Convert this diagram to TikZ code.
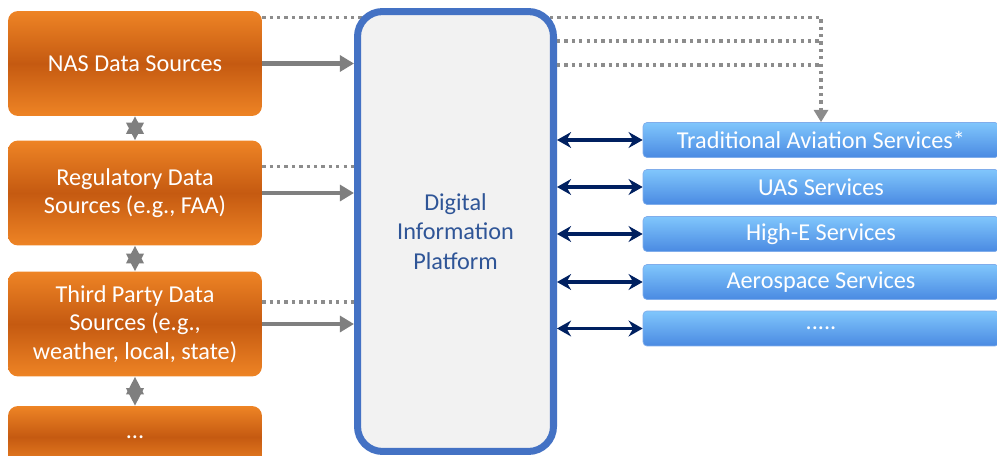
\documentclass[tikz,border=0pt]{standalone}
\usepackage{fontspec}
\setmainfont{Carlito}
\usepackage{xcolor}
\usetikzlibrary{arrows.meta,positioning}

\definecolor{srcmid}{HTML}{C55A11}
\definecolor{srcedge}{HTML}{EE8425}
\definecolor{platblue}{HTML}{4472C4}
\definecolor{platfill}{HTML}{F2F2F2}
\definecolor{plattext}{HTML}{2F5597}
\definecolor{svctop}{HTML}{80C6FC}
\definecolor{svcbot}{HTML}{4A8AE2}
\definecolor{navy}{HTML}{002060}
\definecolor{linkgray}{HTML}{7F7F7F}
\definecolor{dotgray}{HTML}{8C8C8C}

\begin{document}
\begin{tikzpicture}[x=0.02cm, y=-0.02cm,
	srcbox/.style={font=\fontsize{13.8}{16.3}\selectfont, text=white, rounded corners=0.2cm, top color=srcedge, bottom color=srcedge, middle color=srcmid, minimum width=5.08cm, minimum height=2.1cm, inner sep=0, align=center},
	svcbox/.style={font=\fontsize{13.8}{16}\selectfont, text=white, rounded corners=0.08cm, top color=svctop, bottom color=svcbot, draw=svcbot!70!white, thin, minimum width=7.12cm, minimum height=0.7cm, inner sep=0},
	platbox/.style={font=\fontsize{13.8}{16.8}\selectfont, text=plattext, draw=platblue, line width=4pt, fill=platfill, rounded corners=0.5cm, minimum width=3.92cm, minimum height=8.8cm, align=center},
	feed/.style={-{Triangle[length=8pt,width=9pt]}, line width=2.3pt, draw=linkgray},
	link/.style={{Triangle[length=10pt,width=10pt]}-{Triangle[length=10pt,width=10pt]}, line width=1pt, draw=linkgray},
	dots/.style={line width=1.8pt, draw=dotgray, dash pattern=on 1.9pt off 2.3pt},
	api/.style={{Stealth[length=8pt,width=9pt]}-{Stealth[length=8pt,width=9pt]}, line width=2pt, draw=navy}
]
\clip (0,0) rectangle (997,456);

\node[srcbox] (nas) at (135,63.5) {NAS Data Sources};
\node[srcbox] (reg) at (135,193) {Regulatory Data\\Sources (e.g., FAA)};
\node[srcbox] (third) at (135,324) {Third Party Data\\Sources (e.g.,\\weather, local, state)};
\node[srcbox, minimum height=1.24cm] (more) at (135,437) {...};

\node[svcbox] (trad) at (821,140) {Traditional Aviation Services*};
\node[svcbox] (uas) at (821,187) {UAS Services};
\node[svcbox] (highe) at (821,234) {High-E Services};
\node[svcbox] (aero) at (821,282) {Aerospace Services};
\node[svcbox] (svcmore) at (821,328.5) {.....};

% dotted feed to traditional services, passes behind the platform
\coordinate (nasTap) at ([yshift=26.4pt]nas.east);
\draw[dots, -{Triangle[length=7pt,width=8pt]}] (nasTap) -| (trad.north);

\node[platbox] (dip) at (455.5,231.5) {Digital\\Information\\Platform};

\coordinate (tapA) at (821,41);
\coordinate (tapB) at (821,65);
\draw[dots] (dip.east |- tapA) -- (tapA);
\draw[dots] (dip.east |- tapB) -- (tapB);

\coordinate (regTap) at ([yshift=15.3pt]reg.east);
\coordinate (thirdTap) at ([yshift=12.5pt]third.east);
\draw[dots] (regTap) -- (regTap -| dip.west);
\draw[dots] (thirdTap) -- (thirdTap -| dip.west);

\draw[feed] (nas) -- (nas -| dip.west);
\draw[feed] (reg) -- (reg -| dip.west);
\draw[feed] (third) -- (third -| dip.west);

\draw[link] (nas) -- (reg);
\draw[link] (reg) -- (third);
\draw[link] (third) -- (more);

\draw[api] (dip.east |- trad) -- (trad);
\draw[api] (dip.east |- uas) -- (uas);
\draw[api] (dip.east |- highe) -- (highe);
\draw[api] (dip.east |- aero) -- (aero);
\draw[api] (dip.east |- svcmore) -- (svcmore);
\end{tikzpicture}
\end{document}
